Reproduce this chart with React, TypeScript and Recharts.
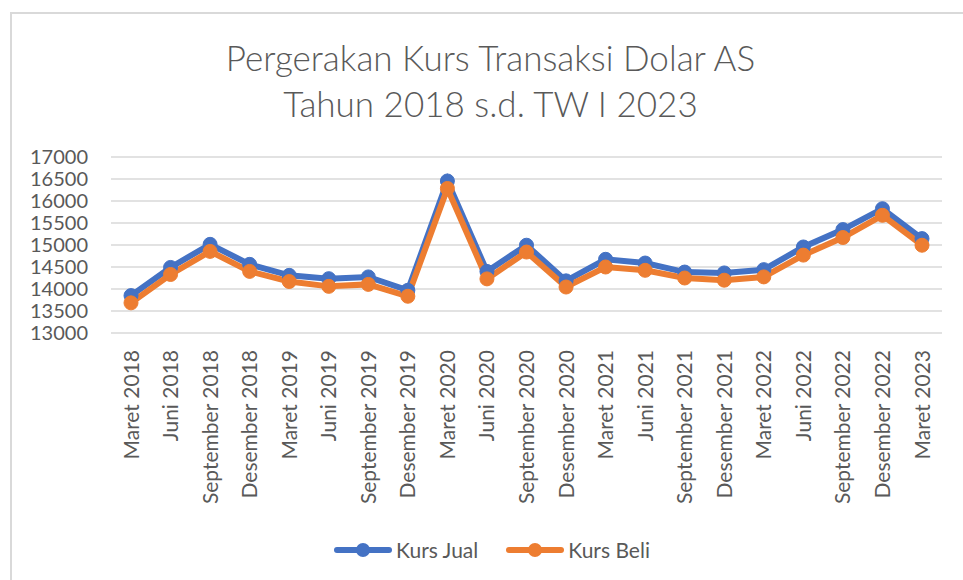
import React from "react";
import { LineChart, Line, XAxis, YAxis, CartesianGrid, Legend } from "recharts";

const periods = [
  "Maret 2018", "Juni 2018", "September 2018", "Desember 2018",
  "Maret 2019", "Juni 2019", "September 2019", "Desember 2019",
  "Maret 2020", "Juni 2020", "September 2020", "Desember 2020",
  "Maret 2021", "Juni 2021", "September 2021", "Desember 2021",
  "Maret 2022", "Juni 2022", "September 2022", "Desember 2022",
  "Maret 2023",
];

const kursJual = [
  13850, 14490, 15015, 14560, 14310, 14235, 14275, 13970, 16455, 14400,
  14995, 14185, 14675, 14590, 14385, 14365, 14440, 14955, 15350, 15825,
  15145,
];

const kursBeli = [
  13685, 14330, 14855, 14400, 14170, 14060, 14105, 13835, 16285, 14230,
  14840, 14045, 14500, 14425, 14250, 14200, 14275, 14770, 15170, 15675,
  14995,
];

const yTicks = [13000, 13500, 14000, 14500, 15000, 15500, 16000, 16500, 17000];

const seriesNames = ["Kurs Jual", "Kurs Beli"];

const data = periods.map((p, i) => ({
  period: p,
  jual: kursJual[i],
  beli: kursBeli[i],
}));

const FONT = "Lato, 'Open Sans', sans-serif";
const TEXT = "#595959";

const XTick = (props: any) => {
  const { x, y, payload } = props;
  return (
    <text
      x={x}
      y={y}
      dy="0.36em"
      transform={`rotate(-90, ${x}, ${y})`}
      textAnchor="end"
      fill={TEXT}
      fontSize={21}
      fontFamily={FONT}
    >
      {payload.value}
    </text>
  );
};

const LegendContent = (props: any) => {
  // keep Excel's series order instead of alphabetical
  const items = [...(props.payload || [])].sort(
    (a: any, b: any) => seriesNames.indexOf(a.value) - seriesNames.indexOf(b.value)
  );
  return (
    <div
      style={{
        display: "flex",
        justifyContent: "center",
        paddingLeft: 42,
        paddingTop: 4,
        fontFamily: FONT,
        fontSize: 21,
        color: TEXT,
      }}
    >
      {items.map((entry: any) => (
        <div key={entry.value} style={{ display: "flex", alignItems: "center", margin: "0 14px" }}>
          <svg width={58} height={16} style={{ marginRight: 4 }}>
            <line x1={3} y1={8} x2={55} y2={8} stroke={entry.color} strokeWidth={6} strokeLinecap="round" />
            <circle cx={29} cy={8} r={7} fill={entry.color} />
          </svg>
          <span>{entry.value}</span>
        </div>
      ))}
    </div>
  );
};

export default function App() {
  return (
    <div style={{ position: "absolute", left: 0, top: 0, width: 963, height: 580, background: "#fff" }}>
      <div
        style={{
          position: "absolute",
          left: 10,
          top: 12,
          width: 960,
          height: 580,
          borderTop: "2px solid #d9d9d9",
          borderLeft: "2px solid #d9d9d9",
        }}
      />
      <div
        style={{
          position: "absolute",
          left: 9,
          top: 34,
          width: 963,
          textAlign: "center",
          fontFamily: FONT,
          fontWeight: 300,
          fontSize: 35,
          lineHeight: "46px",
          color: TEXT,
        }}
      >
        Pergerakan Kurs Transaksi Dolar AS
        <br />
        Tahun 2018 s.d. TW I 2023
      </div>
      <div style={{ position: "absolute", left: 0, top: 0 }}>
        <LineChart
          width={963}
          height={580}
          data={data}
          margin={{ top: 157, right: 21, bottom: 7, left: 0 }}
        >
          <CartesianGrid vertical={false} stroke="#d9d9d9" strokeWidth={1.5} />
          <XAxis
            dataKey="period"
            interval={0}
            axisLine={false}
            tickLine={false}
            tickSize={0}
            tickMargin={17}
            height={200}
            padding={{ left: 20, right: 20 }}
            tick={<XTick />}
          />
          <YAxis
            domain={[13000, 17000]}
            ticks={yTicks}
            interval={0}
            width={111}
            axisLine={false}
            tickLine={false}
            tickSize={0}
            tickMargin={23}
            tick={{ fill: TEXT, fontSize: 20, fontFamily: FONT }}
          />
          <Legend verticalAlign="bottom" height={40} content={<LegendContent />} />
          <Line
            name="Kurs Jual"
            dataKey="jual"
            stroke="#4472C4"
            strokeWidth={6}
            dot={{ r: 7, fill: "#4472C4", stroke: "#4472C4", strokeWidth: 1 }}
            isAnimationActive={false}
          />
          <Line
            name="Kurs Beli"
            dataKey="beli"
            stroke="#ED7D31"
            strokeWidth={6}
            dot={{ r: 7, fill: "#ED7D31", stroke: "#ED7D31", strokeWidth: 1 }}
            isAnimationActive={false}
          />
        </LineChart>
      </div>
    </div>
  );
}
